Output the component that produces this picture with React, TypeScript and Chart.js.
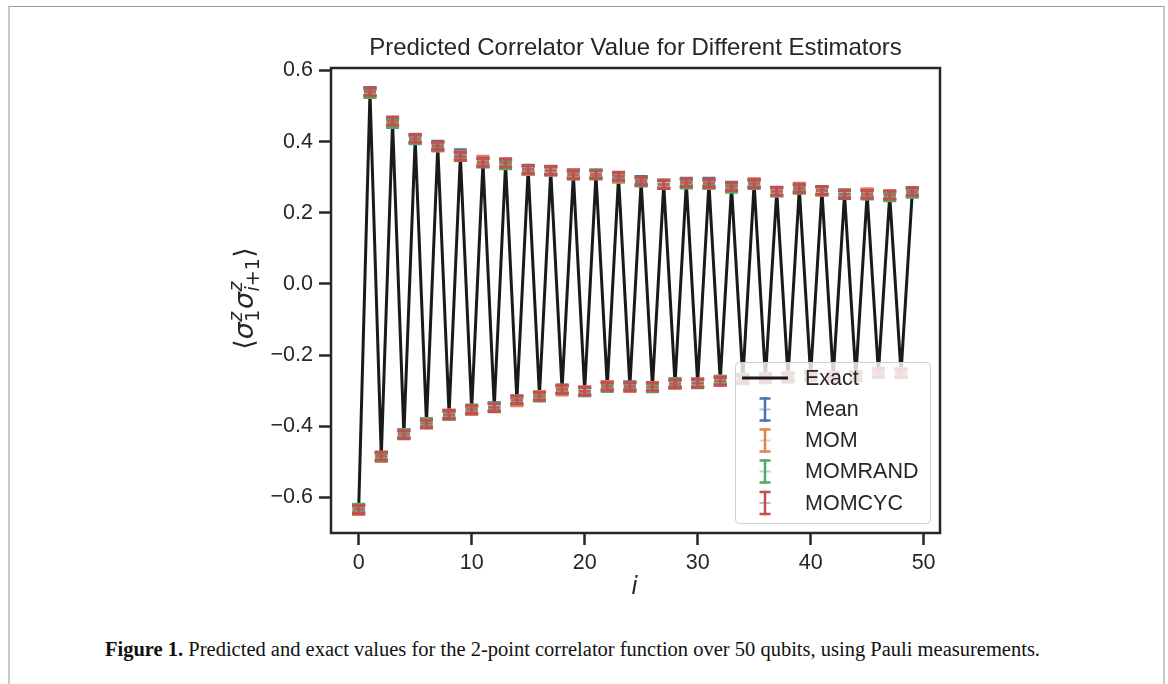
import React, { useEffect, useRef } from 'react';
import { Chart, registerables } from 'chart.js';

Chart.register(...registerables);

// ---------------- data ----------------
const qubitIndex = [
  0, 1, 2, 3, 4, 5, 6, 7, 8, 9, 10, 11, 12, 13, 14, 15, 16, 17, 18, 19, 20, 21, 22, 23, 24,
  25, 26, 27, 28, 29, 30, 31, 32, 33, 34, 35, 36, 37, 38, 39, 40, 41, 42, 43, 44, 45, 46, 47, 48, 49,
];

const exactValues = [
  -0.634, 0.538, -0.484, 0.455, -0.423, 0.408, -0.392, 0.387, -0.367, 0.36,
  -0.354, 0.342, -0.346, 0.338, -0.327, 0.322, -0.315, 0.318, -0.297, 0.308,
  -0.301, 0.308, -0.288, 0.301, -0.288, 0.288, -0.29, 0.28, -0.28, 0.284,
  -0.279, 0.282, -0.272, 0.273, -0.267, 0.282, -0.265, 0.26, -0.262, 0.268,
  -0.258, 0.262, -0.26, 0.252, -0.259, 0.253, -0.25, 0.249, -0.25, 0.259,
];

const meanValues = [
  -0.632, 0.541, -0.485, 0.455, -0.421, 0.406, -0.391, 0.39, -0.368, 0.366,
  -0.354, 0.34, -0.345, 0.34, -0.33, 0.323, -0.315, 0.317, -0.295, 0.311,
  -0.303, 0.308, -0.287, 0.3, -0.286, 0.291, -0.29, 0.281, -0.282, 0.286,
  -0.278, 0.286, -0.273, 0.275, -0.267, 0.283, -0.262, 0.259, -0.26, 0.268,
  -0.26, 0.263, -0.259, 0.251, -0.259, 0.255, -0.251, 0.249, -0.249, 0.257,
];

const momValues = [
  -0.637, 0.539, -0.488, 0.454, -0.422, 0.41, -0.389, 0.385, -0.365, 0.361,
  -0.356, 0.348, -0.347, 0.339, -0.331, 0.319, -0.313, 0.317, -0.301, 0.31,
  -0.3, 0.307, -0.285, 0.297, -0.291, 0.288, -0.288, 0.281, -0.282, 0.283,
  -0.278, 0.28, -0.27, 0.272, -0.27, 0.285, -0.265, 0.258, -0.261, 0.272,
  -0.256, 0.26, -0.26, 0.253, -0.261, 0.256, -0.25, 0.251, -0.251, 0.26,
];

const momRandValues = [
  -0.63, 0.535, -0.486, 0.451, -0.42, 0.405, -0.39, 0.386, -0.37, 0.358,
  -0.351, 0.341, -0.346, 0.335, -0.325, 0.321, -0.318, 0.32, -0.297, 0.306,
  -0.302, 0.31, -0.291, 0.301, -0.287, 0.286, -0.292, 0.28, -0.277, 0.281,
  -0.281, 0.281, -0.271, 0.269, -0.265, 0.279, -0.267, 0.26, -0.265, 0.266,
  -0.257, 0.262, -0.263, 0.254, -0.26, 0.25, -0.248, 0.245, -0.25, 0.255,
];

const momCycValues = [
  -0.634, 0.54, -0.483, 0.458, -0.424, 0.409, -0.394, 0.388, -0.367, 0.359,
  -0.353, 0.342, -0.348, 0.34, -0.326, 0.322, -0.316, 0.319, -0.296, 0.307,
  -0.301, 0.307, -0.288, 0.303, -0.289, 0.289, -0.289, 0.279, -0.28, 0.285,
  -0.279, 0.283, -0.274, 0.274, -0.268, 0.282, -0.266, 0.261, -0.262, 0.269,
  -0.259, 0.263, -0.261, 0.252, -0.258, 0.252, -0.25, 0.25, -0.252, 0.26,
];

const seriesNames = ['Mean', 'MOM', 'MOMRAND', 'MOMCYC'];
const seriesColors = ['#4C72B0', '#DD8452', '#55A868', '#C44E52'];
const seriesErrors = [0.011, 0.011, 0.011, 0.011];

const xTickValues = [0, 10, 20, 30, 40, 50];
const yTickValues = [-0.6, -0.4, -0.2, 0.0, 0.2, 0.4, 0.6];

const titleText = 'Predicted Correlator Value for Different Estimators';
const xLabelText = 'i';
const exactLabel = 'Exact';

// ---------------- layout ----------------
const CW = 1168;
const CH = 620;
const AREA = { left: 331, right: 940, top: 68, bottom: 533 };
const Y_AXIS_W = 100;
const X_AXIS_H = 80;
const TEXT = '#262626';
const SANS = "'Liberation Sans', Arial, sans-serif";
const MATH = "'DejaVu Sans', sans-serif";

function hexA(hex: string, a: number) {
  const r = parseInt(hex.slice(1, 3), 16);
  const g = parseInt(hex.slice(3, 5), 16);
  const b = parseInt(hex.slice(5, 7), 16);
  return `rgba(${r},${g},${b},${a})`;
}

function drawErrGlyph(ctx: CanvasRenderingContext2D, x: number, yTop: number, yBot: number, color: string, capHalf: number, capW: number) {
  ctx.save();
  ctx.strokeStyle = color;
  ctx.lineWidth = 2.5;
  ctx.lineCap = 'square';
  ctx.beginPath();
  ctx.moveTo(x, yTop);
  ctx.lineTo(x, yBot);
  ctx.stroke();
  ctx.lineCap = 'butt';
  ctx.lineWidth = capW;
  ctx.beginPath();
  ctx.moveTo(x - capHalf, yTop);
  ctx.lineTo(x + capHalf, yTop);
  ctx.moveTo(x - capHalf, yBot);
  ctx.lineTo(x + capHalf, yBot);
  ctx.stroke();
  ctx.restore();
}

const errorBarPlugin = {
  id: 'errorBars',
  afterDatasetDraw(chart: any, args: any) {
    const ds = chart.data.datasets[args.index];
    if (ds.errorValue == null) return;
    const ctx = chart.ctx as CanvasRenderingContext2D;
    const xs = chart.scales.x;
    const ys = chart.scales.y;
    ds.data.forEach((p: { x: number; y: number }) => {
      const px = xs.getPixelForValue(p.x);
      const yTop = ys.getPixelForValue(p.y + ds.errorValue);
      const yBot = ys.getPixelForValue(p.y - ds.errorValue);
      drawErrGlyph(ctx, px, yTop, yBot, ds.errorColor, 6.5, 3);
    });
  },
};

function drawYLabel(ctx: CanvasRenderingContext2D, cx: number, cy: number) {
  const main = 27;
  const scr = 19;
  type Piece = { kind: 'text'; text: string; font: string; dy: number } | { kind: 'stack'; sup: Piece[]; sub: Piece[] };
  const t = (text: string, font: string, dy = 0): Piece => ({ kind: 'text', text, font, dy });
  const reg = (s: number) => `${s}px ${MATH}`;
  const ita = (s: number) => `italic ${s}px ${MATH}`;
  const pieces: Piece[] = [
    t('\u27E8', reg(main)),
    t('\u03C3', ita(main)),
    { kind: 'stack', sup: [t('z', ita(scr))], sub: [t('1', reg(scr))] },
    t('\u03C3', ita(main)),
    { kind: 'stack', sup: [t('z', ita(scr))], sub: [t('i', ita(scr)), t('+', reg(scr)), t('1', reg(scr))] },
    t('\u27E9', reg(main)),
  ];
  const widthOf = (arr: Piece[]): number =>
    arr.reduce((w, p) => {
      if (p.kind === 'text') {
        ctx.font = p.font;
        return w + ctx.measureText(p.text).width;
      }
      return w + Math.max(widthOf(p.sup), widthOf(p.sub)) + 1;
    }, 0);
  const total = widthOf(pieces);
  ctx.save();
  ctx.translate(cx, cy);
  ctx.rotate(-Math.PI / 2);
  ctx.fillStyle = TEXT;
  ctx.textBaseline = 'alphabetic';
  ctx.textAlign = 'left';
  const baseY = 8;
  let x = -total / 2;
  const drawRun = (arr: Piece[], x0: number, dy: number) => {
    let xx = x0;
    arr.forEach((p) => {
      if (p.kind === 'text') {
        ctx.font = p.font;
        ctx.fillText(p.text, xx, baseY + dy + p.dy);
        xx += ctx.measureText(p.text).width;
      }
    });
    return xx;
  };
  pieces.forEach((p) => {
    if (p.kind === 'text') {
      ctx.font = p.font;
      ctx.fillText(p.text, x, baseY + p.dy);
      x += ctx.measureText(p.text).width;
    } else {
      const w = Math.max(widthOf(p.sup), widthOf(p.sub));
      drawRun(p.sup, x + 0.5, -main * 0.4);
      drawRun(p.sub, x + 0.5, main * 0.24);
      x += w + 1;
    }
  });
  ctx.restore();
}

const decorPlugin = {
  id: 'decor',
  afterDraw(chart: any) {
    const ctx = chart.ctx as CanvasRenderingContext2D;
    const a = chart.chartArea;
    ctx.save();
    // spines
    ctx.strokeStyle = TEXT;
    ctx.lineWidth = 2.5;
    ctx.lineJoin = 'miter';
    ctx.strokeRect(a.left, a.top, a.right - a.left, a.bottom - a.top);

    // title
    ctx.fillStyle = TEXT;
    ctx.font = `24px ${SANS}`;
    ctx.textAlign = 'center';
    ctx.textBaseline = 'middle';
    ctx.fillText(titleText, (a.left + a.right) / 2, 48);

    // x label
    ctx.font = `italic 24px ${MATH}`;
    ctx.fillText(xLabelText, (a.left + a.right) / 2 - 1, 588);

    // y label
    drawYLabel(ctx, 245, (a.top + a.bottom) / 2 - 2);

    // legend
    const lx = 735, ly = 362, lw = 195, lh = 161;
    ctx.beginPath();
    ctx.roundRect(lx + 0.5, ly + 0.5, lw, lh, 4);
    ctx.fillStyle = 'rgba(255,255,255,0.8)';
    ctx.fill();
    ctx.strokeStyle = '#d0d0d0';
    ctx.lineWidth = 1;
    ctx.stroke();

    const rowY = [378, 409.5, 440.5, 471.5, 503];
    const textX = 805;
    const glyphX = 765;
    ctx.font = `21.5px ${SANS}`;
    ctx.textAlign = 'left';
    ctx.textBaseline = 'middle';

    ctx.strokeStyle = '#1a1a1a';
    ctx.lineWidth = 3;
    ctx.beginPath();
    ctx.moveTo(742, rowY[0]);
    ctx.lineTo(788, rowY[0]);
    ctx.stroke();
    ctx.fillStyle = TEXT;
    ctx.fillText(exactLabel, textX, rowY[0] + 1);

    seriesNames.forEach((name, i) => {
      const y = rowY[i + 1];
      drawErrGlyph(ctx, glyphX, y - 11, y + 11, seriesColors[i], 5.5, 2.5);
      ctx.strokeStyle = hexA(seriesColors[i], 0.45);
      ctx.lineWidth = 2;
      ctx.beginPath();
      ctx.moveTo(glyphX - 5.5, y);
      ctx.lineTo(glyphX + 5.5, y);
      ctx.stroke();
      ctx.fillStyle = TEXT;
      ctx.fillText(name, textX, y + 1);
    });
    ctx.restore();
  },
};

const seriesValues = [meanValues, momValues, momRandValues, momCycValues];

export default function App() {
  const canvasRef = useRef<HTMLCanvasElement | null>(null);

  useEffect(() => {
    if (!canvasRef.current) return;
    const datasets: any[] = [
      {
        type: 'line',
        label: exactLabel,
        data: qubitIndex.map((x, i) => ({ x, y: exactValues[i] })),
        borderColor: '#1a1a1a',
        borderWidth: 3,
        borderJoinStyle: 'round',
        pointRadius: 0,
        tension: 0,
        fill: false,
        order: 10,
      },
      ...seriesNames.map((name, s) => ({
        type: 'scatter',
        label: name,
        data: qubitIndex.map((x, i) => ({ x, y: seriesValues[s][i] })),
        pointStyle: 'line',
        pointRadius: 6,
        pointBorderWidth: 2.5,
        pointBorderColor: hexA(seriesColors[s], 0.7),
        pointBackgroundColor: hexA(seriesColors[s], 0.7),
        borderColor: hexA(seriesColors[s], 0.7),
        errorValue: seriesErrors[s],
        errorColor: seriesColors[s],
        order: 4 - s,
      })),
    ];

    const tickFont = { family: SANS, size: 21.5 };

    const chart = new Chart(canvasRef.current, {
      type: 'scatter',
      data: { datasets },
      options: {
        animation: false,
        responsive: false,
        events: [],
        layout: {
          padding: {
            left: AREA.left - Y_AXIS_W,
            right: CW - AREA.right,
            top: AREA.top,
            bottom: CH - AREA.bottom - X_AXIS_H,
          },
        },
        plugins: {
          legend: { display: false },
          title: { display: false },
          tooltip: { enabled: false },
        },
        scales: {
          x: {
            type: 'linear',
            position: 'bottom',
            min: -2.45,
            max: 51.45,
            afterBuildTicks: (sc: any) => {
              sc.ticks = xTickValues.map((v) => ({ value: v }));
            },
            afterFit: (sc: any) => {
              sc.height = X_AXIS_H;
            },
            grid: {
              display: true,
              drawOnChartArea: false,
              drawTicks: true,
              tickLength: 12,
              tickWidth: 2.5,
              tickColor: TEXT,
            },
            border: { display: false },
            ticks: {
              color: TEXT,
              font: tickFont,
              padding: 5,
              maxRotation: 0,
              autoSkip: false,
              callback: (v: any) => String(v),
            },
          },
          y: {
            type: 'linear',
            position: 'left',
            min: -0.7,
            max: 0.607,
            afterBuildTicks: (sc: any) => {
              sc.ticks = yTickValues.map((v) => ({ value: v }));
            },
            afterFit: (sc: any) => {
              sc.width = Y_AXIS_W;
            },
            grid: {
              display: true,
              drawOnChartArea: false,
              drawTicks: true,
              tickLength: 12,
              tickWidth: 2.5,
              tickColor: TEXT,
            },
            border: { display: false },
            ticks: {
              color: TEXT,
              font: tickFont,
              padding: 6,
              autoSkip: false,
              callback: (v: any) => Number(v).toFixed(1).replace('-', '\u2212'),
            },
          },
        },
      },
      plugins: [errorBarPlugin, decorPlugin],
    } as any);

    return () => chart.destroy();
  }, []);

  return (
    <div style={{ position: 'absolute', left: 0, top: 0, width: CW, height: 684, background: '#fff', overflow: 'hidden' }}>
      <div
        style={{
          position: 'absolute',
          left: 8,
          top: 6,
          width: 1157,
          height: 678,
          boxSizing: 'border-box',
          borderTop: '1.5px solid #9a9a9a',
          borderLeft: '2px solid #c8c8c8',
          borderRight: '2px solid #c8c8c8',
        }}
      />
      <canvas ref={canvasRef} width={CW} height={CH} style={{ position: 'absolute', left: 0, top: 0, width: CW, height: CH }} />
      <div
        style={{
          position: 'absolute',
          left: 105,
          top: 637,
          whiteSpace: 'nowrap',
          fontFamily: "'Liberation Serif', 'Times New Roman', serif",
          fontSize: 20.5,
          lineHeight: '24px',
          color: '#111',
        }}
      >
        <b>Figure 1.</b> Predicted and exact values for the 2-point correlator function over 50 qubits, using Pauli measurements.
      </div>
    </div>
  );
}
